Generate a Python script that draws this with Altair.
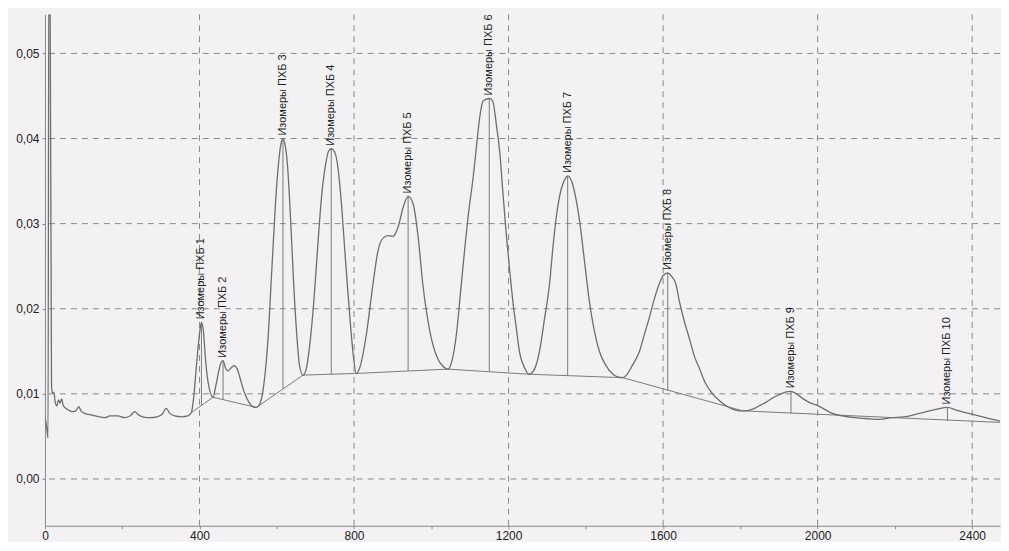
import altair as alt
import pandas as pd

# ---- chromatogram trace (x = time index, y = signal) ----
trace_x = [0, 4, 8, 10, 13, 17, 19, 23, 27, 31, 35, 39, 43, 47, 54, 65, 72, 80, 88, 93,
           103, 122, 142, 155, 168, 189, 207, 220, 233, 240, 253, 272, 290, 303, 314, 323,
           336, 354, 370, 379, 385, 393, 401, 405, 410, 416, 424, 435, 442, 450, 455, 461,
           467, 473, 481, 489, 497, 504, 515, 528, 538, 547, 556, 566, 577, 587, 597, 605,
           611, 616, 621, 628, 636, 644, 652, 659, 668, 675, 685, 696, 706, 716, 727, 734,
           741, 749, 758, 768, 778, 789, 797, 806, 815, 832, 849, 862, 875, 888, 901, 914,
           927, 940, 953, 965, 978, 996, 1017, 1029, 1043, 1053, 1065, 1076, 1086, 1097,
           1108, 1117, 1125, 1134, 1141, 1151, 1159, 1169, 1177, 1185, 1194, 1203, 1211,
           1221, 1228, 1241, 1254, 1267, 1280, 1293, 1306, 1315, 1323, 1332, 1340, 1347,
           1353, 1360, 1366, 1374, 1383, 1396, 1409, 1422, 1435, 1451, 1470, 1482, 1496,
           1505, 1521, 1539, 1551, 1564, 1577, 1590, 1600, 1612, 1622, 1633, 1642, 1655,
           1668, 1681, 1694, 1709, 1728, 1746, 1763, 1780, 1798, 1813, 1832, 1849, 1866,
           1883, 1901, 1916, 1931, 1945, 1960, 1978, 1996, 2017, 2038, 2064, 2095, 2126,
           2159, 2193, 2224, 2254, 2281, 2309, 2336, 2358, 2383, 2409, 2435, 2462, 2493]
trace_y = [0.0072, 0.0062, 0.0048, 0.0600, 0.0600, 0.0109, 0.0101, 0.0102, 0.0089, 0.0086,
           0.0093, 0.0089, 0.0094, 0.0087, 0.0083, 0.0080, 0.0079, 0.0080, 0.0085, 0.0080,
           0.0077, 0.0075, 0.0073, 0.0072, 0.0074, 0.0074, 0.0072, 0.0074, 0.0079, 0.0076,
           0.0073, 0.0072, 0.0073, 0.0076, 0.0083, 0.0077, 0.0074, 0.0073, 0.0074, 0.0078,
           0.0096, 0.0138, 0.0174, 0.0184, 0.0174, 0.0138, 0.0109, 0.0096, 0.0109, 0.0127,
           0.0136, 0.0139, 0.0131, 0.0127, 0.0130, 0.0133, 0.0130, 0.0120, 0.0103, 0.0090,
           0.0085, 0.0084, 0.0088, 0.0109, 0.0162, 0.0244, 0.0326, 0.0373, 0.0394, 0.0400,
           0.0394, 0.0367, 0.0303, 0.0227, 0.0168, 0.0133, 0.0122, 0.0127, 0.0156, 0.0209,
           0.0273, 0.0332, 0.0371, 0.0385, 0.0388, 0.0385, 0.0367, 0.0320, 0.0256, 0.0191,
           0.0150, 0.0124, 0.0131, 0.0170, 0.0229, 0.0268, 0.0283, 0.0286, 0.0285, 0.0296,
           0.0319, 0.0332, 0.0323, 0.0288, 0.0229, 0.0174, 0.0141, 0.0133, 0.0129, 0.0138,
           0.0170, 0.0221, 0.0268, 0.0315, 0.0353, 0.0391, 0.0424, 0.0444, 0.0446, 0.0447,
           0.0444, 0.0414, 0.0385, 0.0338, 0.0288, 0.0244, 0.0209, 0.0174, 0.0150, 0.0131,
           0.0123, 0.0129, 0.0150, 0.0188, 0.0229, 0.0273, 0.0306, 0.0332, 0.0346, 0.0353,
           0.0356, 0.0353, 0.0346, 0.0330, 0.0306, 0.0258, 0.0209, 0.0174, 0.0150, 0.0134,
           0.0123, 0.0120, 0.0119, 0.0122, 0.0134, 0.0150, 0.0169, 0.0189, 0.0211, 0.0229,
           0.0239, 0.0242, 0.0238, 0.0229, 0.0209, 0.0185, 0.0165, 0.0144, 0.0130, 0.0113,
           0.0100, 0.0092, 0.0086, 0.0082, 0.0080, 0.0080, 0.0082, 0.0086, 0.0090, 0.0095,
           0.0099, 0.0102, 0.0103, 0.0100, 0.0095, 0.0090, 0.0087, 0.0082, 0.0077, 0.0074,
           0.0072, 0.0071, 0.0070, 0.0072, 0.0073, 0.0076, 0.0079, 0.0082, 0.0084, 0.0081,
           0.0078, 0.0075, 0.0072, 0.0069, 0.0066]

# ---- integration baseline ----
base_x = [379, 435, 547, 668, 806, 1043, 1254, 1496, 1806, 2493]
base_y = [0.0078, 0.0096, 0.0084, 0.0122, 0.0124, 0.0129, 0.0123, 0.0119, 0.0080, 0.0066]

# ---- marked peaks ----
peak_x = [405, 461, 616, 741, 940, 1150, 1353, 1612, 1931, 2336]
peak_top = [0.0184, 0.0139, 0.0400, 0.0388, 0.0332, 0.0447, 0.0356, 0.0242, 0.0103, 0.0084]
peak_base = [0.0086, 0.0093, 0.0106, 0.0123, 0.0127, 0.0126, 0.0121, 0.0104, 0.0077, 0.0068]
peak_label = ["Изомеры ПХБ 1", "Изомеры ПХБ 2", "Изомеры ПХБ 3", "Изомеры ПХБ 4",
              "Изомеры ПХБ 5", "Изомеры ПХБ 6", "Изомеры ПХБ 7", "Изомеры ПХБ 8",
              "Изомеры ПХБ 9", "Изомеры ПХБ 10"]

# ---- axes ----
x_grid = [400, 800, 1200, 1600, 2000, 2400]
y_grid = [0.0, 0.01, 0.02, 0.03, 0.04, 0.05]
x_ticks = list(range(0, 2500, 50))
X_DOMAIN = [0, 2472]
Y_DOMAIN = [-0.0055, 0.0546]

trace = pd.DataFrame({"x": trace_x, "y": trace_y, "order": range(len(trace_x))})
base = pd.DataFrame({"x": base_x, "y": base_y})
peaks = pd.DataFrame({"x": peak_x, "top": peak_top, "base": peak_base, "label": peak_label})
xg = pd.DataFrame({"x": x_grid})
yg = pd.DataFrame({"y": y_grid})

FONT = "Liberation Sans"
GRAY = "#7a7a7a"

xscale = alt.Scale(domain=X_DOMAIN, nice=False, zero=False)
yscale = alt.Scale(domain=Y_DOMAIN, nice=False, zero=False)

x_axis = alt.Axis(values=x_ticks, title=None, grid=False, tickSize=3, tickColor="#888",
                  domainColor="#888", labelExpr="datum.value % 400 == 0 ? format(datum.value, 'd') : ''",
                  labelOverlap=False, labelFlush=False, labelFont=FONT, labelFontSize=12,
                  labelColor="#222", labelPadding=2)
y_axis = alt.Axis(values=y_grid, title=None, grid=False, tickSize=3, tickColor="#888",
                  domainColor="#888", labelExpr="replace(format(datum.value, '.2f'), '.', ',')",
                  labelFont=FONT, labelFontSize=12, labelColor="#222", labelPadding=3,
                  minExtent=37, maxExtent=37)

xgrid = alt.Chart(xg).mark_rule(color="#8a8a8a", strokeDash=[6, 5], strokeWidth=1).encode(
    x=alt.X("x:Q", scale=xscale, axis=x_axis))
ygrid = alt.Chart(yg).mark_rule(color="#8a8a8a", strokeDash=[6, 5], strokeWidth=1).encode(
    y=alt.Y("y:Q", scale=yscale, axis=y_axis))

baseline = alt.Chart(base).mark_line(color=GRAY, strokeWidth=1, clip=True).encode(
    x=alt.X("x:Q", scale=xscale), y=alt.Y("y:Q", scale=yscale))

rules = alt.Chart(peaks).mark_rule(color=GRAY, strokeWidth=1).encode(
    x=alt.X("x:Q", scale=xscale), y=alt.Y("top:Q", scale=yscale), y2="base:Q")

line = alt.Chart(trace).mark_line(color="#6e6e6e", strokeWidth=1.3, clip=True,
                                  interpolate="monotone").encode(
    x=alt.X("x:Q", scale=xscale), y=alt.Y("y:Q", scale=yscale), order="order:Q")

labels = alt.Chart(peaks).mark_text(angle=270, align="left", baseline="middle", dx=3,
                                    font=FONT, fontSize=11, color="#1e1e1e").encode(
    x=alt.X("x:Q", scale=xscale), y=alt.Y("top:Q", scale=yscale), text="label:N")

chart = alt.layer(xgrid, ygrid, baseline, rules, line, labels).properties(
    width=956, height=512, background="#f3f1f3",
    padding={"left": 0, "top": 5, "right": 0, "bottom": 0}
).configure_view(stroke=None)

chart.save("out.html", embed_options={"renderer": "svg", "actions": False})
